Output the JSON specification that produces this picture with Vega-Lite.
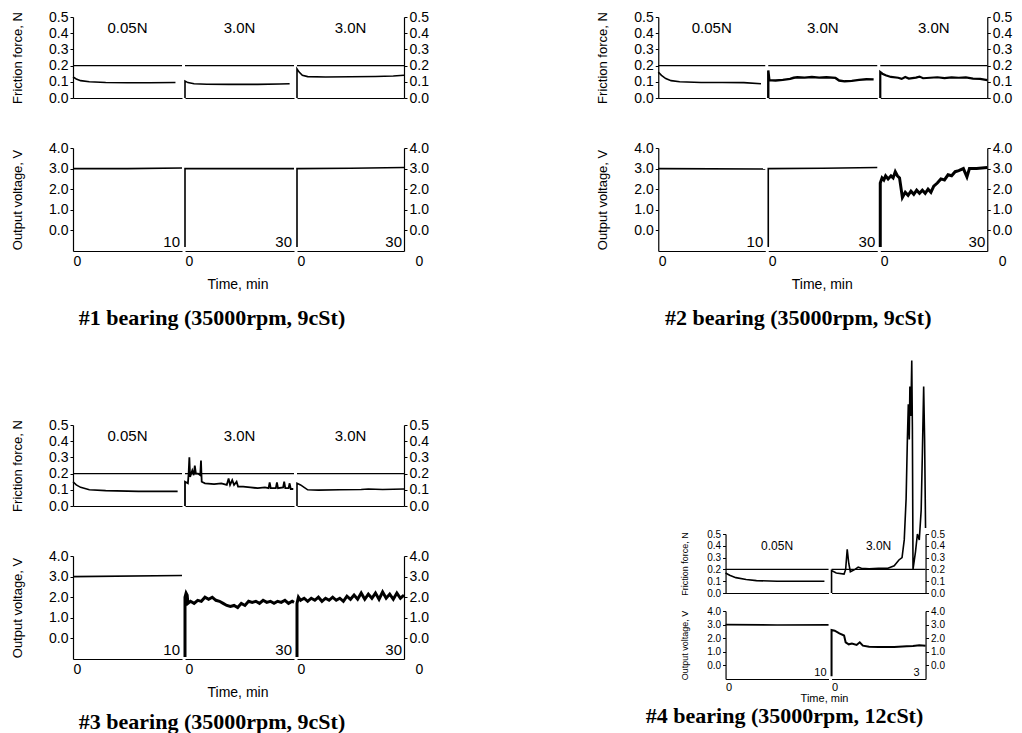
{
"$schema": "https://vega.github.io/schema/vega-lite/v6.json",
"background": "white",
"padding": {"left": 11, "top": 10, "right": 3, "bottom": 0},
"config": {
  "view": {"stroke": null},
  "axis": {"domainColor": "black", "tickColor": "black", "labelColor": "black", "titleColor": "black", "labelFont": "Liberation Sans", "titleFont": "Liberation Sans", "grid": false, "domainWidth": 1.2, "tickWidth": 1, "tickSize": 3, "labelFontSize": 14, "titleFontSize": 13, "titleFontWeight": "normal", "titlePadding": 24, "labelPadding": 2, "labelOverlap": false},
  "title": {"color": "black"}
},
"datasets": {
"d": [
{"b":1,"s":1,"k":"F","t":0,"v":0.13},{"b":1,"s":1,"k":"F","t":0.3,"v":0.117},{"b":1,"s":1,"k":"F","t":0.7,"v":0.107},{"b":1,"s":1,"k":"F","t":1.5,"v":0.1},{"b":1,"s":1,"k":"F","t":3,"v":0.096},{"b":1,"s":1,"k":"F","t":5,"v":0.094},{"b":1,"s":1,"k":"F","t":7,"v":0.094},{"b":1,"s":1,"k":"F","t":9.4,"v":0.096},
{"b":1,"s":2,"k":"F","t":0,"v":0},{"b":1,"s":2,"k":"F","t":0,"v":0.105},{"b":1,"s":2,"k":"F","t":0.8,"v":0.095},{"b":1,"s":2,"k":"F","t":2.5,"v":0.088},{"b":1,"s":2,"k":"F","t":6,"v":0.085},{"b":1,"s":2,"k":"F","t":12,"v":0.084},{"b":1,"s":2,"k":"F","t":20,"v":0.084},{"b":1,"s":2,"k":"F","t":26,"v":0.086},{"b":1,"s":2,"k":"F","t":28.8,"v":0.088},
{"b":1,"s":3,"k":"F","t":0,"v":0},{"b":1,"s":3,"k":"F","t":0,"v":0.18},{"b":1,"s":3,"k":"F","t":0.6,"v":0.16},{"b":1,"s":3,"k":"F","t":1.5,"v":0.14},{"b":1,"s":3,"k":"F","t":3,"v":0.132},{"b":1,"s":3,"k":"F","t":8,"v":0.13},{"b":1,"s":3,"k":"F","t":15,"v":0.131},{"b":1,"s":3,"k":"F","t":22,"v":0.133},{"b":1,"s":3,"k":"F","t":27,"v":0.136},{"b":1,"s":3,"k":"F","t":30,"v":0.14},
{"b":1,"s":1,"k":"V","t":0,"v":3.0},{"b":1,"s":1,"k":"V","t":5,"v":3.0},{"b":1,"s":1,"k":"V","t":10,"v":3.03},
{"b":1,"s":2,"k":"V","t":0,"v":-0.8},{"b":1,"s":2,"k":"V","t":0,"v":3.0},{"b":1,"s":2,"k":"V","t":15,"v":3.0},{"b":1,"s":2,"k":"V","t":30,"v":3.0},
{"b":1,"s":3,"k":"V","t":0,"v":-0.8},{"b":1,"s":3,"k":"V","t":0,"v":3.0},{"b":1,"s":3,"k":"V","t":15,"v":3.02},{"b":1,"s":3,"k":"V","t":30,"v":3.05},

{"b":2,"s":1,"k":"F","t":0,"v":0.16},{"b":2,"s":1,"k":"F","t":0.3,"v":0.14},{"b":2,"s":1,"k":"F","t":0.7,"v":0.12},{"b":2,"s":1,"k":"F","t":1.2,"v":0.107},{"b":2,"s":1,"k":"F","t":2,"v":0.1},{"b":2,"s":1,"k":"F","t":4,"v":0.096},{"b":2,"s":1,"k":"F","t":6,"v":0.096},{"b":2,"s":1,"k":"F","t":8,"v":0.095},{"b":2,"s":1,"k":"F","t":9.6,"v":0.088},
{"b":2,"s":2,"k":"F","t":0,"v":0},{"b":2,"s":2,"k":"F","t":0,"v":0.17},{"b":2,"s":2,"k":"F","t":0.3,"v":0.11},{"b":2,"s":2,"k":"F","t":2,"v":0.108},{"b":2,"s":2,"k":"F","t":4,"v":0.112},{"b":2,"s":2,"k":"F","t":6,"v":0.118},{"b":2,"s":2,"k":"F","t":7,"v":0.125},{"b":2,"s":2,"k":"F","t":8,"v":0.128},{"b":2,"s":2,"k":"F","t":10,"v":0.126},{"b":2,"s":2,"k":"F","t":12,"v":0.13},{"b":2,"s":2,"k":"F","t":14,"v":0.126},{"b":2,"s":2,"k":"F","t":16,"v":0.128},{"b":2,"s":2,"k":"F","t":18.5,"v":0.124},{"b":2,"s":2,"k":"F","t":19.5,"v":0.108},{"b":2,"s":2,"k":"F","t":21,"v":0.103},{"b":2,"s":2,"k":"F","t":23,"v":0.106},{"b":2,"s":2,"k":"F","t":25,"v":0.112},{"b":2,"s":2,"k":"F","t":27,"v":0.116},{"b":2,"s":2,"k":"F","t":29,"v":0.115},
{"b":2,"s":3,"k":"F","t":0,"v":0},{"b":2,"s":3,"k":"F","t":0,"v":0.16},{"b":2,"s":3,"k":"F","t":0.6,"v":0.15},{"b":2,"s":3,"k":"F","t":1.5,"v":0.14},{"b":2,"s":3,"k":"F","t":3,"v":0.13},{"b":2,"s":3,"k":"F","t":5,"v":0.125},{"b":2,"s":3,"k":"F","t":6,"v":0.118},{"b":2,"s":3,"k":"F","t":7,"v":0.13},{"b":2,"s":3,"k":"F","t":8,"v":0.12},{"b":2,"s":3,"k":"F","t":10,"v":0.126},{"b":2,"s":3,"k":"F","t":11,"v":0.132},{"b":2,"s":3,"k":"F","t":12,"v":0.122},{"b":2,"s":3,"k":"F","t":14,"v":0.125},{"b":2,"s":3,"k":"F","t":16,"v":0.128},{"b":2,"s":3,"k":"F","t":18,"v":0.123},{"b":2,"s":3,"k":"F","t":20,"v":0.127},{"b":2,"s":3,"k":"F","t":22,"v":0.125},{"b":2,"s":3,"k":"F","t":24,"v":0.127},{"b":2,"s":3,"k":"F","t":26,"v":0.12},{"b":2,"s":3,"k":"F","t":28,"v":0.118},{"b":2,"s":3,"k":"F","t":30,"v":0.11},
{"b":2,"s":1,"k":"V","t":0,"v":3.0},{"b":2,"s":1,"k":"V","t":10,"v":2.98},
{"b":2,"s":2,"k":"V","t":0,"v":-0.8},{"b":2,"s":2,"k":"V","t":0,"v":3.0},{"b":2,"s":2,"k":"V","t":15,"v":3.02},{"b":2,"s":2,"k":"V","t":30,"v":3.05},
{"b":2,"s":3,"k":"V","t":0,"v":-0.8},{"b":2,"s":3,"k":"V","t":0,"v":2.3},{"b":2,"s":3,"k":"V","t":0.5,"v":2.55},{"b":2,"s":3,"k":"V","t":1,"v":2.45},{"b":2,"s":3,"k":"V","t":1.5,"v":2.65},{"b":2,"s":3,"k":"V","t":2.2,"v":2.5},{"b":2,"s":3,"k":"V","t":3,"v":2.65},{"b":2,"s":3,"k":"V","t":3.6,"v":2.55},{"b":2,"s":3,"k":"V","t":4.2,"v":2.85},{"b":2,"s":3,"k":"V","t":4.8,"v":2.65},{"b":2,"s":3,"k":"V","t":5.4,"v":2.55},{"b":2,"s":3,"k":"V","t":6.2,"v":1.6},{"b":2,"s":3,"k":"V","t":7,"v":1.85},{"b":2,"s":3,"k":"V","t":7.8,"v":1.7},{"b":2,"s":3,"k":"V","t":8.6,"v":1.9},{"b":2,"s":3,"k":"V","t":9.4,"v":1.75},{"b":2,"s":3,"k":"V","t":10.2,"v":1.95},{"b":2,"s":3,"k":"V","t":11,"v":1.8},{"b":2,"s":3,"k":"V","t":11.8,"v":1.95},{"b":2,"s":3,"k":"V","t":12.6,"v":1.8},{"b":2,"s":3,"k":"V","t":13.4,"v":2.0},{"b":2,"s":3,"k":"V","t":14.2,"v":1.85},{"b":2,"s":3,"k":"V","t":15,"v":2.15},{"b":2,"s":3,"k":"V","t":16,"v":2.3},{"b":2,"s":3,"k":"V","t":17,"v":2.5},{"b":2,"s":3,"k":"V","t":18,"v":2.45},{"b":2,"s":3,"k":"V","t":19,"v":2.7},{"b":2,"s":3,"k":"V","t":20,"v":2.65},{"b":2,"s":3,"k":"V","t":21,"v":2.85},{"b":2,"s":3,"k":"V","t":22,"v":2.9},{"b":2,"s":3,"k":"V","t":23.3,"v":3.0},{"b":2,"s":3,"k":"V","t":24.3,"v":2.6},{"b":2,"s":3,"k":"V","t":25,"v":3.0},{"b":2,"s":3,"k":"V","t":27,"v":3.0},{"b":2,"s":3,"k":"V","t":30,"v":3.05},

{"b":3,"s":1,"k":"F","t":0,"v":0.15},{"b":3,"s":1,"k":"F","t":0.3,"v":0.13},{"b":3,"s":1,"k":"F","t":0.7,"v":0.115},{"b":3,"s":1,"k":"F","t":1.5,"v":0.1},{"b":3,"s":1,"k":"F","t":3,"v":0.095},{"b":3,"s":1,"k":"F","t":6,"v":0.09},{"b":3,"s":1,"k":"F","t":9.6,"v":0.09},
{"b":3,"s":2,"k":"F","t":0,"v":0},{"b":3,"s":2,"k":"F","t":0,"v":0.15},{"b":3,"s":2,"k":"F","t":0.8,"v":0.14},{"b":3,"s":2,"k":"F","t":1.0,"v":0.2},{"b":3,"s":2,"k":"F","t":1.2,"v":0.3},{"b":3,"s":2,"k":"F","t":1.4,"v":0.18},{"b":3,"s":2,"k":"F","t":2.0,"v":0.22},{"b":3,"s":2,"k":"F","t":2.4,"v":0.19},{"b":3,"s":2,"k":"F","t":2.7,"v":0.25},{"b":3,"s":2,"k":"F","t":3.0,"v":0.2},{"b":3,"s":2,"k":"F","t":3.6,"v":0.2},{"b":3,"s":2,"k":"F","t":4.2,"v":0.19},{"b":3,"s":2,"k":"F","t":4.4,"v":0.28},{"b":3,"s":2,"k":"F","t":4.6,"v":0.15},{"b":3,"s":2,"k":"F","t":5.5,"v":0.14},{"b":3,"s":2,"k":"F","t":8,"v":0.135},{"b":3,"s":2,"k":"F","t":10,"v":0.14},{"b":3,"s":2,"k":"F","t":11.5,"v":0.13},{"b":3,"s":2,"k":"F","t":12,"v":0.17},{"b":3,"s":2,"k":"F","t":12.4,"v":0.13},{"b":3,"s":2,"k":"F","t":13,"v":0.16},{"b":3,"s":2,"k":"F","t":13.5,"v":0.13},{"b":3,"s":2,"k":"F","t":14.2,"v":0.15},{"b":3,"s":2,"k":"F","t":14.6,"v":0.12},{"b":3,"s":2,"k":"F","t":16,"v":0.12},{"b":3,"s":2,"k":"F","t":18,"v":0.115},{"b":3,"s":2,"k":"F","t":20,"v":0.11},{"b":3,"s":2,"k":"F","t":22,"v":0.115},{"b":3,"s":2,"k":"F","t":23,"v":0.11},{"b":3,"s":2,"k":"F","t":23.3,"v":0.145},{"b":3,"s":2,"k":"F","t":23.6,"v":0.11},{"b":3,"s":2,"k":"F","t":25,"v":0.11},{"b":3,"s":2,"k":"F","t":25.3,"v":0.145},{"b":3,"s":2,"k":"F","t":25.6,"v":0.11},{"b":3,"s":2,"k":"F","t":27,"v":0.115},{"b":3,"s":2,"k":"F","t":27.3,"v":0.15},{"b":3,"s":2,"k":"F","t":27.6,"v":0.11},{"b":3,"s":2,"k":"F","t":28.5,"v":0.11},{"b":3,"s":2,"k":"F","t":28.8,"v":0.14},{"b":3,"s":2,"k":"F","t":29.1,"v":0.105},{"b":3,"s":2,"k":"F","t":29.8,"v":0.105},
{"b":3,"s":3,"k":"F","t":0,"v":0},{"b":3,"s":3,"k":"F","t":0,"v":0.14},{"b":3,"s":3,"k":"F","t":1,"v":0.13},{"b":3,"s":3,"k":"F","t":2,"v":0.115},{"b":3,"s":3,"k":"F","t":3,"v":0.1},{"b":3,"s":3,"k":"F","t":6,"v":0.098},{"b":3,"s":3,"k":"F","t":12,"v":0.1},{"b":3,"s":3,"k":"F","t":18,"v":0.102},{"b":3,"s":3,"k":"F","t":20,"v":0.105},{"b":3,"s":3,"k":"F","t":24,"v":0.102},{"b":3,"s":3,"k":"F","t":30,"v":0.105},
{"b":3,"s":1,"k":"V","t":0,"v":3.0},{"b":3,"s":1,"k":"V","t":10,"v":3.05},
{"b":3,"s":2,"k":"V","t":0,"v":-0.9},{"b":3,"s":2,"k":"V","t":0,"v":2.0},{"b":3,"s":2,"k":"V","t":0.3,"v":2.2},{"b":3,"s":2,"k":"V","t":0.6,"v":2.1},{"b":3,"s":2,"k":"V","t":0.8,"v":1.7},{"b":3,"s":2,"k":"V","t":1.5,"v":1.8},{"b":3,"s":2,"k":"V","t":2.5,"v":1.7},{"b":3,"s":2,"k":"V","t":3.5,"v":1.85},{"b":3,"s":2,"k":"V","t":4.5,"v":1.8},{"b":3,"s":2,"k":"V","t":5.5,"v":2.0},{"b":3,"s":2,"k":"V","t":6.5,"v":1.9},{"b":3,"s":2,"k":"V","t":7.5,"v":2.0},{"b":3,"s":2,"k":"V","t":8.5,"v":1.85},{"b":3,"s":2,"k":"V","t":9.5,"v":1.8},{"b":3,"s":2,"k":"V","t":10.5,"v":1.7},{"b":3,"s":2,"k":"V","t":11.5,"v":1.6},{"b":3,"s":2,"k":"V","t":12.5,"v":1.55},{"b":3,"s":2,"k":"V","t":13.5,"v":1.6},{"b":3,"s":2,"k":"V","t":14.5,"v":1.5},{"b":3,"s":2,"k":"V","t":15.5,"v":1.7},{"b":3,"s":2,"k":"V","t":16.5,"v":1.6},{"b":3,"s":2,"k":"V","t":17.5,"v":1.8},{"b":3,"s":2,"k":"V","t":18.5,"v":1.75},{"b":3,"s":2,"k":"V","t":19.5,"v":1.8},{"b":3,"s":2,"k":"V","t":20.5,"v":1.7},{"b":3,"s":2,"k":"V","t":21.5,"v":1.85},{"b":3,"s":2,"k":"V","t":22.5,"v":1.75},{"b":3,"s":2,"k":"V","t":23.5,"v":1.8},{"b":3,"s":2,"k":"V","t":24.5,"v":1.7},{"b":3,"s":2,"k":"V","t":25.5,"v":1.8},{"b":3,"s":2,"k":"V","t":26.5,"v":1.75},{"b":3,"s":2,"k":"V","t":27.5,"v":1.85},{"b":3,"s":2,"k":"V","t":28.5,"v":1.7},{"b":3,"s":2,"k":"V","t":29.5,"v":1.8},{"b":3,"s":2,"k":"V","t":30,"v":1.75},
{"b":3,"s":3,"k":"V","t":0,"v":-0.9},{"b":3,"s":3,"k":"V","t":0,"v":1.7},{"b":3,"s":3,"k":"V","t":0.4,"v":2.0},{"b":3,"s":3,"k":"V","t":1,"v":1.85},{"b":3,"s":3,"k":"V","t":2,"v":1.95},{"b":3,"s":3,"k":"V","t":3,"v":1.8},{"b":3,"s":3,"k":"V","t":4,"v":1.95},{"b":3,"s":3,"k":"V","t":5,"v":1.85},{"b":3,"s":3,"k":"V","t":6,"v":2.0},{"b":3,"s":3,"k":"V","t":7,"v":1.8},{"b":3,"s":3,"k":"V","t":8,"v":1.95},{"b":3,"s":3,"k":"V","t":9,"v":1.85},{"b":3,"s":3,"k":"V","t":10,"v":2.0},{"b":3,"s":3,"k":"V","t":11,"v":1.85},{"b":3,"s":3,"k":"V","t":12,"v":1.95},{"b":3,"s":3,"k":"V","t":13,"v":1.8},{"b":3,"s":3,"k":"V","t":14,"v":2.05},{"b":3,"s":3,"k":"V","t":15,"v":1.9},{"b":3,"s":3,"k":"V","t":16,"v":2.1},{"b":3,"s":3,"k":"V","t":17,"v":1.9},{"b":3,"s":3,"k":"V","t":18,"v":2.2},{"b":3,"s":3,"k":"V","t":19,"v":1.9},{"b":3,"s":3,"k":"V","t":20,"v":2.15},{"b":3,"s":3,"k":"V","t":21,"v":1.95},{"b":3,"s":3,"k":"V","t":22,"v":2.2},{"b":3,"s":3,"k":"V","t":23,"v":1.9},{"b":3,"s":3,"k":"V","t":24,"v":2.25},{"b":3,"s":3,"k":"V","t":25,"v":1.95},{"b":3,"s":3,"k":"V","t":26,"v":2.15},{"b":3,"s":3,"k":"V","t":27,"v":1.9},{"b":3,"s":3,"k":"V","t":28,"v":2.2},{"b":3,"s":3,"k":"V","t":29,"v":1.95},{"b":3,"s":3,"k":"V","t":30,"v":2.1},

{"b":4,"s":1,"k":"F","t":0,"v":0.17},{"b":4,"s":1,"k":"F","t":0.4,"v":0.15},{"b":4,"s":1,"k":"F","t":1,"v":0.13},{"b":4,"s":1,"k":"F","t":2,"v":0.115},{"b":4,"s":1,"k":"F","t":3,"v":0.105},{"b":4,"s":1,"k":"F","t":5,"v":0.1},{"b":4,"s":1,"k":"F","t":7,"v":0.1},{"b":4,"s":1,"k":"F","t":9.6,"v":0.1},
{"b":4,"s":2,"k":"F","t":0,"v":0},{"b":4,"s":2,"k":"F","t":0,"v":0.19},{"b":4,"s":2,"k":"F","t":0.15,"v":0.17},{"b":4,"s":2,"k":"F","t":0.4,"v":0.16},{"b":4,"s":2,"k":"F","t":0.45,"v":0.2},{"b":4,"s":2,"k":"F","t":0.5,"v":0.37},{"b":4,"s":2,"k":"F","t":0.55,"v":0.25},{"b":4,"s":2,"k":"F","t":0.6,"v":0.18},{"b":4,"s":2,"k":"F","t":0.75,"v":0.2},{"b":4,"s":2,"k":"F","t":0.85,"v":0.22},{"b":4,"s":2,"k":"F","t":0.95,"v":0.21},{"b":4,"s":2,"k":"F","t":1.2,"v":0.205},{"b":4,"s":2,"k":"F","t":1.5,"v":0.21},{"b":4,"s":2,"k":"F","t":1.8,"v":0.21},{"b":4,"s":2,"k":"F","t":2.0,"v":0.23},{"b":4,"s":2,"k":"F","t":2.15,"v":0.28},{"b":4,"s":2,"k":"F","t":2.25,"v":0.3},{"b":4,"s":2,"k":"F","t":2.32,"v":0.45},{"b":4,"s":2,"k":"F","t":2.38,"v":0.8},{"b":4,"s":2,"k":"F","t":2.42,"v":1.3},{"b":4,"s":2,"k":"F","t":2.45,"v":1.6},{"b":4,"s":2,"k":"F","t":2.48,"v":1.3},{"b":4,"s":2,"k":"F","t":2.5,"v":1.75},{"b":4,"s":2,"k":"F","t":2.53,"v":1.5},{"b":4,"s":2,"k":"F","t":2.56,"v":1.97},{"b":4,"s":2,"k":"F","t":2.58,"v":1.4},{"b":4,"s":2,"k":"F","t":2.6,"v":0.2},{"b":4,"s":2,"k":"F","t":2.68,"v":0.35},{"b":4,"s":2,"k":"F","t":2.74,"v":0.5},{"b":4,"s":2,"k":"F","t":2.8,"v":0.45},{"b":4,"s":2,"k":"F","t":2.86,"v":0.7},{"b":4,"s":2,"k":"F","t":2.9,"v":1.2},{"b":4,"s":2,"k":"F","t":2.94,"v":1.75},{"b":4,"s":2,"k":"F","t":2.97,"v":1.3},{"b":4,"s":2,"k":"F","t":3.0,"v":0.55},
{"b":4,"s":1,"k":"V","t":0,"v":3.0},{"b":4,"s":1,"k":"V","t":5,"v":2.97},{"b":4,"s":1,"k":"V","t":10,"v":2.98},
{"b":4,"s":2,"k":"V","t":0,"v":-0.8},{"b":4,"s":2,"k":"V","t":0,"v":2.6},{"b":4,"s":2,"k":"V","t":0.1,"v":2.55},{"b":4,"s":2,"k":"V","t":0.25,"v":2.35},{"b":4,"s":2,"k":"V","t":0.4,"v":2.2},{"b":4,"s":2,"k":"V","t":0.45,"v":1.7},{"b":4,"s":2,"k":"V","t":0.55,"v":1.55},{"b":4,"s":2,"k":"V","t":0.65,"v":1.6},{"b":4,"s":2,"k":"V","t":0.8,"v":1.5},{"b":4,"s":2,"k":"V","t":0.9,"v":1.7},{"b":4,"s":2,"k":"V","t":1.0,"v":1.45},{"b":4,"s":2,"k":"V","t":1.2,"v":1.38},{"b":4,"s":2,"k":"V","t":1.5,"v":1.35},{"b":4,"s":2,"k":"V","t":2.0,"v":1.35},{"b":4,"s":2,"k":"V","t":2.4,"v":1.4},{"b":4,"s":2,"k":"V","t":2.6,"v":1.42},{"b":4,"s":2,"k":"V","t":2.8,"v":1.48},{"b":4,"s":2,"k":"V","t":3.0,"v":1.45}
],
"ann": [
{"b":1,"s":1,"k":"F","t":5,"v":0.43,"label":"0.05N"},{"b":1,"s":2,"k":"F","t":15,"v":0.43,"label":"3.0N"},{"b":1,"s":3,"k":"F","t":15,"v":0.43,"label":"3.0N"},
{"b":2,"s":1,"k":"F","t":5,"v":0.43,"label":"0.05N"},{"b":2,"s":2,"k":"F","t":15,"v":0.43,"label":"3.0N"},{"b":2,"s":3,"k":"F","t":15,"v":0.43,"label":"3.0N"},
{"b":3,"s":1,"k":"F","t":5,"v":0.43,"label":"0.05N"},{"b":3,"s":2,"k":"F","t":15,"v":0.43,"label":"3.0N"},{"b":3,"s":3,"k":"F","t":15,"v":0.43,"label":"3.0N"},
{"b":4,"s":1,"k":"F","t":5,"v":0.4,"label":"0.05N"},{"b":4,"s":2,"k":"F","t":1.5,"v":0.4,"label":"3.0N"},
{"b":1,"s":1,"k":"V","t":10,"v":-1,"label":"10"},{"b":1,"s":2,"k":"V","t":30,"v":-1,"label":"30"},{"b":1,"s":3,"k":"V","t":30,"v":-1,"label":"30"},
{"b":2,"s":1,"k":"V","t":10,"v":-1,"label":"10"},{"b":2,"s":2,"k":"V","t":30,"v":-1,"label":"30"},{"b":2,"s":3,"k":"V","t":30,"v":-1,"label":"30"},
{"b":3,"s":1,"k":"V","t":10,"v":-1,"label":"10"},{"b":3,"s":2,"k":"V","t":30,"v":-1,"label":"30"},{"b":3,"s":3,"k":"V","t":30,"v":-1,"label":"30"},
{"b":4,"s":1,"k":"V","t":10,"v":-1,"label":"10"},{"b":4,"s":2,"k":"V","t":3,"v":-1,"label":"3"}
]
},
"spacing": 167,
"hconcat": [
{"spacing": 89, "vconcat": [

{"title": {"text": "#1 bearing (35000rpm, 9cSt)", "orient": "bottom", "anchor": "middle", "offset": 16, "dx": -8, "font": "Liberation Serif", "fontSize": 22, "fontWeight": "bold", "color": "black"},
 "spacing": 36,
 "vconcat": [
 {"spacing": 3, "bounds": "flush", "hconcat": [
  {"width": 109, "height": 81,
   "encoding": {"y": {"field": "v", "type": "quantitative", "scale": {"domain": [0, 0.5], "nice": false}, "axis": {"values": [0, 0.1, 0.2, 0.3, 0.4, 0.5], "format": ".1f", "labelOverlap": false, "title": "Friction force, N"}}},
   "layer": [
   {"data": {"name": "d"}, "transform": [{"filter": "datum.b==1&&datum.s==1&&datum.k=='F'"}], "mark": {"type": "line", "color": "black", "strokeWidth": 1.6}, "encoding": {"x": {"field": "t", "type": "quantitative", "scale": {"domain": [0, 10], "nice": false}, "axis": {"labels": false, "ticks": false, "title": null}}}},
   {"data": {"values": [{"v": 0.2}]}, "mark": {"type": "rule", "color": "black", "strokeWidth": 1.2}, "encoding": {}},
   {"data": {"name": "ann"}, "transform": [{"filter": "datum.b==1&&datum.s==1&&datum.k=='F'"}], "mark": {"type": "text", "font": "Liberation Sans", "fontSize": 15, "color": "black"}, "encoding": {"x": {"field": "t", "type": "quantitative", "scale": {"domain": [0, 10], "nice": false}}, "text": {"field": "label"}}}
  ]},
  {"width": 109, "height": 81,
   "encoding": {"y": {"field": "v", "type": "quantitative", "scale": {"domain": [0, 0.5], "nice": false}, "axis": null}},
   "layer": [
   {"data": {"name": "d"}, "transform": [{"filter": "datum.b==1&&datum.s==2&&datum.k=='F'"}], "mark": {"type": "line", "color": "black", "strokeWidth": 1.6}, "encoding": {"x": {"field": "t", "type": "quantitative", "scale": {"domain": [0, 30], "nice": false}, "axis": {"labels": false, "ticks": false, "title": null}}}},
   {"data": {"values": [{"v": 0.2}]}, "mark": {"type": "rule", "color": "black", "strokeWidth": 1.2}, "encoding": {}},
   {"data": {"name": "ann"}, "transform": [{"filter": "datum.b==1&&datum.s==2&&datum.k=='F'"}], "mark": {"type": "text", "font": "Liberation Sans", "fontSize": 15, "color": "black"}, "encoding": {"x": {"field": "t", "type": "quantitative", "scale": {"domain": [0, 30], "nice": false}}, "text": {"field": "label"}}}
  ]},
  {"width": 107, "height": 81,
   "encoding": {"y": {"field": "v", "type": "quantitative", "scale": {"domain": [0, 0.5], "nice": false}, "axis": {"orient": "right", "values": [0, 0.1, 0.2, 0.3, 0.4, 0.5], "format": ".1f", "labelOverlap": false, "title": null}}},
   "layer": [
   {"data": {"name": "d"}, "transform": [{"filter": "datum.b==1&&datum.s==3&&datum.k=='F'"}], "mark": {"type": "line", "color": "black", "strokeWidth": 1.6}, "encoding": {"x": {"field": "t", "type": "quantitative", "scale": {"domain": [0, 30], "nice": false}, "axis": {"labels": false, "ticks": false, "title": null}}}},
   {"data": {"values": [{"v": 0.2}]}, "mark": {"type": "rule", "color": "black", "strokeWidth": 1.2}, "encoding": {}},
   {"data": {"name": "ann"}, "transform": [{"filter": "datum.b==1&&datum.s==3&&datum.k=='F'"}], "mark": {"type": "text", "font": "Liberation Sans", "fontSize": 15, "color": "black"}, "encoding": {"x": {"field": "t", "type": "quantitative", "scale": {"domain": [0, 30], "nice": false}}, "text": {"field": "label"}}}
  ]}
 ]},
 {"spacing": 3, "bounds": "flush", "title": {"text": "Time, min", "orient": "bottom", "anchor": "middle", "offset": 10, "dx": 18, "font": "Liberation Sans", "fontSize": 14, "fontWeight": "normal", "color": "black"}, "hconcat": [
  {"width": 109, "height": 103,
   "encoding": {"y": {"field": "v", "type": "quantitative", "scale": {"domain": [-1, 4], "nice": false}, "axis": {"values": [0, 1, 2, 3, 4], "format": ".1f", "labelOverlap": false, "title": "Output voltage, V"}}},
   "layer": [
   {"data": {"name": "d"}, "transform": [{"filter": "datum.b==1&&datum.s==1&&datum.k=='V'"}], "mark": {"type": "line", "color": "black", "strokeWidth": 1.6}, "encoding": {"x": {"field": "t", "type": "quantitative", "scale": {"domain": [0, 10], "nice": false}, "axis": {"values": [0], "labelAlign": "left", "labelFlush": false, "ticks": false, "labelPadding": 3, "title": null}}}},
   {"data": {"name": "ann"}, "transform": [{"filter": "datum.b==1&&datum.s==1&&datum.k=='V'"}], "mark": {"type": "text", "font": "Liberation Sans", "fontSize": 15, "color": "black", "align": "right", "baseline": "bottom", "dx": -2, "dy": -1}, "encoding": {"x": {"field": "t", "type": "quantitative", "scale": {"domain": [0, 10], "nice": false}}, "text": {"field": "label"}}}
  ]},
  {"width": 109, "height": 103,
   "encoding": {"y": {"field": "v", "type": "quantitative", "scale": {"domain": [-1, 4], "nice": false}, "axis": null}},
   "layer": [
   {"data": {"name": "d"}, "transform": [{"filter": "datum.b==1&&datum.s==2&&datum.k=='V'"}], "mark": {"type": "line", "color": "black", "strokeWidth": 1.6}, "encoding": {"x": {"field": "t", "type": "quantitative", "scale": {"domain": [0, 30], "nice": false}, "axis": {"values": [0], "labelAlign": "left", "labelFlush": false, "ticks": false, "labelPadding": 3, "title": null}}}},
   {"data": {"name": "ann"}, "transform": [{"filter": "datum.b==1&&datum.s==2&&datum.k=='V'"}], "mark": {"type": "text", "font": "Liberation Sans", "fontSize": 15, "color": "black", "align": "right", "baseline": "bottom", "dx": -2, "dy": -1}, "encoding": {"x": {"field": "t", "type": "quantitative", "scale": {"domain": [0, 30], "nice": false}}, "text": {"field": "label"}}}
  ]},
  {"width": 107, "height": 103,
   "encoding": {"y": {"field": "v", "type": "quantitative", "scale": {"domain": [-1, 4], "nice": false}, "axis": {"orient": "right", "values": [0, 1, 2, 3, 4], "format": ".1f", "labelOverlap": false, "title": null}}},
   "layer": [
   {"data": {"name": "d"}, "transform": [{"filter": "datum.b==1&&datum.s==3&&datum.k=='V'"}], "mark": {"type": "line", "color": "black", "strokeWidth": 1.6}, "encoding": {"x": {"field": "t", "type": "quantitative", "scale": {"domain": [0, 30], "nice": false}, "axis": {"values": [0, 30], "labelExpr": "'0'", "labelAlign": "left", "labelFlush": false, "labelOffset": {"condition": {"test": "datum.value > 0", "value": 11}, "value": 0}, "ticks": false, "labelPadding": 3, "title": null}}}},
   {"data": {"name": "ann"}, "transform": [{"filter": "datum.b==1&&datum.s==3&&datum.k=='V'"}], "mark": {"type": "text", "font": "Liberation Sans", "fontSize": 15, "color": "black", "align": "right", "baseline": "bottom", "dx": -2, "dy": -1}, "encoding": {"x": {"field": "t", "type": "quantitative", "scale": {"domain": [0, 30], "nice": false}}, "text": {"field": "label"}}}
  ]}
 ]}
 ]},

{"title": {"text": "#3 bearing (35000rpm, 9cSt)", "orient": "bottom", "anchor": "middle", "offset": 12, "dx": -8, "font": "Liberation Serif", "fontSize": 22, "fontWeight": "bold", "color": "black"},
 "spacing": 36,
 "vconcat": [
 {"spacing": 3, "bounds": "flush", "hconcat": [
  {"width": 109, "height": 81,
   "encoding": {"y": {"field": "v", "type": "quantitative", "scale": {"domain": [0, 0.5], "nice": false}, "axis": {"values": [0, 0.1, 0.2, 0.3, 0.4, 0.5], "format": ".1f", "labelOverlap": false, "title": "Friction force, N"}}},
   "layer": [
   {"data": {"name": "d"}, "transform": [{"filter": "datum.b==3&&datum.s==1&&datum.k=='F'"}], "mark": {"type": "line", "color": "black", "strokeWidth": 1.6}, "encoding": {"x": {"field": "t", "type": "quantitative", "scale": {"domain": [0, 10], "nice": false}, "axis": {"labels": false, "ticks": false, "title": null}}}},
   {"data": {"values": [{"v": 0.2}]}, "mark": {"type": "rule", "color": "black", "strokeWidth": 1.2}, "encoding": {}},
   {"data": {"name": "ann"}, "transform": [{"filter": "datum.b==3&&datum.s==1&&datum.k=='F'"}], "mark": {"type": "text", "font": "Liberation Sans", "fontSize": 15, "color": "black"}, "encoding": {"x": {"field": "t", "type": "quantitative", "scale": {"domain": [0, 10], "nice": false}}, "text": {"field": "label"}}}
  ]},
  {"width": 109, "height": 81,
   "encoding": {"y": {"field": "v", "type": "quantitative", "scale": {"domain": [0, 0.5], "nice": false}, "axis": null}},
   "layer": [
   {"data": {"name": "d"}, "transform": [{"filter": "datum.b==3&&datum.s==2&&datum.k=='F'"}], "mark": {"type": "line", "color": "black", "strokeWidth": 1.8}, "encoding": {"x": {"field": "t", "type": "quantitative", "scale": {"domain": [0, 30], "nice": false}, "axis": {"labels": false, "ticks": false, "title": null}}}},
   {"data": {"values": [{"v": 0.2}]}, "mark": {"type": "rule", "color": "black", "strokeWidth": 1.2}, "encoding": {}},
   {"data": {"name": "ann"}, "transform": [{"filter": "datum.b==3&&datum.s==2&&datum.k=='F'"}], "mark": {"type": "text", "font": "Liberation Sans", "fontSize": 15, "color": "black"}, "encoding": {"x": {"field": "t", "type": "quantitative", "scale": {"domain": [0, 30], "nice": false}}, "text": {"field": "label"}}}
  ]},
  {"width": 107, "height": 81,
   "encoding": {"y": {"field": "v", "type": "quantitative", "scale": {"domain": [0, 0.5], "nice": false}, "axis": {"orient": "right", "values": [0, 0.1, 0.2, 0.3, 0.4, 0.5], "format": ".1f", "labelOverlap": false, "title": null}}},
   "layer": [
   {"data": {"name": "d"}, "transform": [{"filter": "datum.b==3&&datum.s==3&&datum.k=='F'"}], "mark": {"type": "line", "color": "black", "strokeWidth": 1.6}, "encoding": {"x": {"field": "t", "type": "quantitative", "scale": {"domain": [0, 30], "nice": false}, "axis": {"labels": false, "ticks": false, "title": null}}}},
   {"data": {"values": [{"v": 0.2}]}, "mark": {"type": "rule", "color": "black", "strokeWidth": 1.2}, "encoding": {}},
   {"data": {"name": "ann"}, "transform": [{"filter": "datum.b==3&&datum.s==3&&datum.k=='F'"}], "mark": {"type": "text", "font": "Liberation Sans", "fontSize": 15, "color": "black"}, "encoding": {"x": {"field": "t", "type": "quantitative", "scale": {"domain": [0, 30], "nice": false}}, "text": {"field": "label"}}}
  ]}
 ]},
 {"spacing": 3, "bounds": "flush", "title": {"text": "Time, min", "orient": "bottom", "anchor": "middle", "offset": 10, "dx": 18, "font": "Liberation Sans", "fontSize": 14, "fontWeight": "normal", "color": "black"}, "hconcat": [
  {"width": 109, "height": 103,
   "encoding": {"y": {"field": "v", "type": "quantitative", "scale": {"domain": [-1, 4], "nice": false}, "axis": {"values": [0, 1, 2, 3, 4], "format": ".1f", "labelOverlap": false, "title": "Output voltage, V"}}},
   "layer": [
   {"data": {"name": "d"}, "transform": [{"filter": "datum.b==3&&datum.s==1&&datum.k=='V'"}], "mark": {"type": "line", "color": "black", "strokeWidth": 1.6}, "encoding": {"x": {"field": "t", "type": "quantitative", "scale": {"domain": [0, 10], "nice": false}, "axis": {"values": [0], "labelAlign": "left", "labelFlush": false, "ticks": false, "labelPadding": 3, "title": null}}}},
   {"data": {"name": "ann"}, "transform": [{"filter": "datum.b==3&&datum.s==1&&datum.k=='V'"}], "mark": {"type": "text", "font": "Liberation Sans", "fontSize": 15, "color": "black", "align": "right", "baseline": "bottom", "dx": -2, "dy": -1}, "encoding": {"x": {"field": "t", "type": "quantitative", "scale": {"domain": [0, 10], "nice": false}}, "text": {"field": "label"}}}
  ]},
  {"width": 109, "height": 103,
   "encoding": {"y": {"field": "v", "type": "quantitative", "scale": {"domain": [-1, 4], "nice": false}, "axis": null}},
   "layer": [
   {"data": {"name": "d"}, "transform": [{"filter": "datum.b==3&&datum.s==2&&datum.k=='V'"}], "mark": {"type": "line", "color": "black", "strokeWidth": 3}, "encoding": {"x": {"field": "t", "type": "quantitative", "scale": {"domain": [0, 30], "nice": false}, "axis": {"values": [0], "labelAlign": "left", "labelFlush": false, "ticks": false, "labelPadding": 3, "title": null}}}},
   {"data": {"name": "ann"}, "transform": [{"filter": "datum.b==3&&datum.s==2&&datum.k=='V'"}], "mark": {"type": "text", "font": "Liberation Sans", "fontSize": 15, "color": "black", "align": "right", "baseline": "bottom", "dx": -2, "dy": -1}, "encoding": {"x": {"field": "t", "type": "quantitative", "scale": {"domain": [0, 30], "nice": false}}, "text": {"field": "label"}}}
  ]},
  {"width": 107, "height": 103,
   "encoding": {"y": {"field": "v", "type": "quantitative", "scale": {"domain": [-1, 4], "nice": false}, "axis": {"orient": "right", "values": [0, 1, 2, 3, 4], "format": ".1f", "labelOverlap": false, "title": null}}},
   "layer": [
   {"data": {"name": "d"}, "transform": [{"filter": "datum.b==3&&datum.s==3&&datum.k=='V'"}], "mark": {"type": "line", "color": "black", "strokeWidth": 3}, "encoding": {"x": {"field": "t", "type": "quantitative", "scale": {"domain": [0, 30], "nice": false}, "axis": {"values": [0, 30], "labelExpr": "'0'", "labelAlign": "left", "labelFlush": false, "labelOffset": {"condition": {"test": "datum.value > 0", "value": 11}, "value": 0}, "ticks": false, "labelPadding": 3, "title": null}}}},
   {"data": {"name": "ann"}, "transform": [{"filter": "datum.b==3&&datum.s==3&&datum.k=='V'"}], "mark": {"type": "text", "font": "Liberation Sans", "fontSize": 15, "color": "black", "align": "right", "baseline": "bottom", "dx": -2, "dy": -1}, "encoding": {"x": {"field": "t", "type": "quantitative", "scale": {"domain": [0, 30], "nice": false}}, "text": {"field": "label"}}}
  ]}
 ]}
 ]}
]},

{"spacing": 28, "center": true, "vconcat": [

{"title": {"text": "#2 bearing (35000rpm, 9cSt)", "orient": "bottom", "anchor": "middle", "offset": 16, "dx": -6, "font": "Liberation Serif", "fontSize": 22, "fontWeight": "bold", "color": "black"},
 "spacing": 36,
 "vconcat": [
 {"spacing": 3, "bounds": "flush", "hconcat": [
  {"width": 107, "height": 81,
   "encoding": {"y": {"field": "v", "type": "quantitative", "scale": {"domain": [0, 0.5], "nice": false}, "axis": {"values": [0, 0.1, 0.2, 0.3, 0.4, 0.5], "format": ".1f", "labelOverlap": false, "title": "Friction force, N"}}},
   "layer": [
   {"data": {"name": "d"}, "transform": [{"filter": "datum.b==2&&datum.s==1&&datum.k=='F'"}], "mark": {"type": "line", "color": "black", "strokeWidth": 1.6}, "encoding": {"x": {"field": "t", "type": "quantitative", "scale": {"domain": [0, 10], "nice": false}, "axis": {"labels": false, "ticks": false, "title": null}}}},
   {"data": {"values": [{"v": 0.2}]}, "mark": {"type": "rule", "color": "black", "strokeWidth": 1.2}, "encoding": {}},
   {"data": {"name": "ann"}, "transform": [{"filter": "datum.b==2&&datum.s==1&&datum.k=='F'"}], "mark": {"type": "text", "font": "Liberation Sans", "fontSize": 15, "color": "black"}, "encoding": {"x": {"field": "t", "type": "quantitative", "scale": {"domain": [0, 10], "nice": false}}, "text": {"field": "label"}}}
  ]},
  {"width": 109, "height": 81,
   "encoding": {"y": {"field": "v", "type": "quantitative", "scale": {"domain": [0, 0.5], "nice": false}, "axis": null}},
   "layer": [
   {"data": {"name": "d"}, "transform": [{"filter": "datum.b==2&&datum.s==2&&datum.k=='F'"}], "mark": {"type": "line", "color": "black", "strokeWidth": 2.4}, "encoding": {"x": {"field": "t", "type": "quantitative", "scale": {"domain": [0, 30], "nice": false}, "axis": {"labels": false, "ticks": false, "title": null}}}},
   {"data": {"values": [{"v": 0.2}]}, "mark": {"type": "rule", "color": "black", "strokeWidth": 1.2}, "encoding": {}},
   {"data": {"name": "ann"}, "transform": [{"filter": "datum.b==2&&datum.s==2&&datum.k=='F'"}], "mark": {"type": "text", "font": "Liberation Sans", "fontSize": 15, "color": "black"}, "encoding": {"x": {"field": "t", "type": "quantitative", "scale": {"domain": [0, 30], "nice": false}}, "text": {"field": "label"}}}
  ]},
  {"width": 107, "height": 81,
   "encoding": {"y": {"field": "v", "type": "quantitative", "scale": {"domain": [0, 0.5], "nice": false}, "axis": {"orient": "right", "values": [0, 0.1, 0.2, 0.3, 0.4, 0.5], "format": ".1f", "labelOverlap": false, "title": null}}},
   "layer": [
   {"data": {"name": "d"}, "transform": [{"filter": "datum.b==2&&datum.s==3&&datum.k=='F'"}], "mark": {"type": "line", "color": "black", "strokeWidth": 2.2}, "encoding": {"x": {"field": "t", "type": "quantitative", "scale": {"domain": [0, 30], "nice": false}, "axis": {"labels": false, "ticks": false, "title": null}}}},
   {"data": {"values": [{"v": 0.2}]}, "mark": {"type": "rule", "color": "black", "strokeWidth": 1.2}, "encoding": {}},
   {"data": {"name": "ann"}, "transform": [{"filter": "datum.b==2&&datum.s==3&&datum.k=='F'"}], "mark": {"type": "text", "font": "Liberation Sans", "fontSize": 15, "color": "black"}, "encoding": {"x": {"field": "t", "type": "quantitative", "scale": {"domain": [0, 30], "nice": false}}, "text": {"field": "label"}}}
  ]}
 ]},
 {"spacing": 3, "bounds": "flush", "title": {"text": "Time, min", "orient": "bottom", "anchor": "middle", "offset": 10, "dx": 18, "font": "Liberation Sans", "fontSize": 14, "fontWeight": "normal", "color": "black"}, "hconcat": [
  {"width": 107, "height": 103,
   "encoding": {"y": {"field": "v", "type": "quantitative", "scale": {"domain": [-1, 4], "nice": false}, "axis": {"values": [0, 1, 2, 3, 4], "format": ".1f", "labelOverlap": false, "title": "Output voltage, V"}}},
   "layer": [
   {"data": {"name": "d"}, "transform": [{"filter": "datum.b==2&&datum.s==1&&datum.k=='V'"}], "mark": {"type": "line", "color": "black", "strokeWidth": 1.6}, "encoding": {"x": {"field": "t", "type": "quantitative", "scale": {"domain": [0, 10], "nice": false}, "axis": {"values": [0], "labelAlign": "left", "labelFlush": false, "ticks": false, "labelPadding": 3, "title": null}}}},
   {"data": {"name": "ann"}, "transform": [{"filter": "datum.b==2&&datum.s==1&&datum.k=='V'"}], "mark": {"type": "text", "font": "Liberation Sans", "fontSize": 15, "color": "black", "align": "right", "baseline": "bottom", "dx": -2, "dy": -1}, "encoding": {"x": {"field": "t", "type": "quantitative", "scale": {"domain": [0, 10], "nice": false}}, "text": {"field": "label"}}}
  ]},
  {"width": 109, "height": 103,
   "encoding": {"y": {"field": "v", "type": "quantitative", "scale": {"domain": [-1, 4], "nice": false}, "axis": null}},
   "layer": [
   {"data": {"name": "d"}, "transform": [{"filter": "datum.b==2&&datum.s==2&&datum.k=='V'"}], "mark": {"type": "line", "color": "black", "strokeWidth": 1.6}, "encoding": {"x": {"field": "t", "type": "quantitative", "scale": {"domain": [0, 30], "nice": false}, "axis": {"values": [0], "labelAlign": "left", "labelFlush": false, "ticks": false, "labelPadding": 3, "title": null}}}},
   {"data": {"name": "ann"}, "transform": [{"filter": "datum.b==2&&datum.s==2&&datum.k=='V'"}], "mark": {"type": "text", "font": "Liberation Sans", "fontSize": 15, "color": "black", "align": "right", "baseline": "bottom", "dx": -2, "dy": -1}, "encoding": {"x": {"field": "t", "type": "quantitative", "scale": {"domain": [0, 30], "nice": false}}, "text": {"field": "label"}}}
  ]},
  {"width": 107, "height": 103,
   "encoding": {"y": {"field": "v", "type": "quantitative", "scale": {"domain": [-1, 4], "nice": false}, "axis": {"orient": "right", "values": [0, 1, 2, 3, 4], "format": ".1f", "labelOverlap": false, "title": null}}},
   "layer": [
   {"data": {"name": "d"}, "transform": [{"filter": "datum.b==2&&datum.s==3&&datum.k=='V'"}], "mark": {"type": "line", "color": "black", "strokeWidth": 3}, "encoding": {"x": {"field": "t", "type": "quantitative", "scale": {"domain": [0, 30], "nice": false}, "axis": {"values": [0, 30], "labelExpr": "'0'", "labelAlign": "left", "labelFlush": false, "labelOffset": {"condition": {"test": "datum.value > 0", "value": 11}, "value": 0}, "ticks": false, "labelPadding": 3, "title": null}}}},
   {"data": {"name": "ann"}, "transform": [{"filter": "datum.b==2&&datum.s==3&&datum.k=='V'"}], "mark": {"type": "text", "font": "Liberation Sans", "fontSize": 15, "color": "black", "align": "right", "baseline": "bottom", "dx": -2, "dy": -1}, "encoding": {"x": {"field": "t", "type": "quantitative", "scale": {"domain": [0, 30], "nice": false}}, "text": {"field": "label"}}}
  ]}
 ]}
 ]},

{"title": {"text": "#4 bearing (35000rpm, 12cSt)", "orient": "bottom", "anchor": "middle", "offset": 2, "dx": -28, "font": "Liberation Serif", "fontSize": 22, "fontWeight": "bold", "color": "black"},
 "spacing": 8,
 "vconcat": [
 {"spacing": 3, "bounds": "flush", "hconcat": [
  {"width": 103, "height": 59,
   "encoding": {"y": {"field": "v", "type": "quantitative", "scale": {"domain": [0, 0.5], "nice": false}, "axis": {"values": [0, 0.1, 0.2, 0.3, 0.4, 0.5], "format": ".1f", "labelOverlap": false, "title": "Friction force, N", "labelFontSize": 10, "titleFontSize": 9, "titlePadding": 17}}},
   "layer": [
   {"data": {"name": "d"}, "transform": [{"filter": "datum.b==4&&datum.s==1&&datum.k=='F'"}], "mark": {"type": "line", "color": "black", "strokeWidth": 1.6}, "encoding": {"x": {"field": "t", "type": "quantitative", "scale": {"domain": [0, 10], "nice": false}, "axis": {"labels": false, "ticks": false, "title": null}}}},
   {"data": {"values": [{"v": 0.2}]}, "mark": {"type": "rule", "color": "black", "strokeWidth": 1.2}, "encoding": {}},
   {"data": {"name": "ann"}, "transform": [{"filter": "datum.b==4&&datum.s==1&&datum.k=='F'"}], "mark": {"type": "text", "font": "Liberation Sans", "fontSize": 12, "color": "black"}, "encoding": {"x": {"field": "t", "type": "quantitative", "scale": {"domain": [0, 10], "nice": false}}, "text": {"field": "label"}}}
  ]},
  {"width": 94, "height": 59,
   "encoding": {"y": {"field": "v", "type": "quantitative", "scale": {"domain": [0, 0.5], "nice": false}, "axis": {"orient": "right", "values": [0, 0.1, 0.2, 0.3, 0.4, 0.5], "format": ".1f", "labelOverlap": false, "title": null, "labelFontSize": 10}}},
   "layer": [
   {"data": {"name": "d"}, "transform": [{"filter": "datum.b==4&&datum.s==2&&datum.k=='F'"}], "mark": {"type": "line", "color": "black", "strokeWidth": 1.6}, "encoding": {"x": {"field": "t", "type": "quantitative", "scale": {"domain": [0, 3], "nice": false}, "axis": {"labels": false, "ticks": false, "title": null}}}},
   {"data": {"values": [{"v": 0.2}]}, "mark": {"type": "rule", "color": "black", "strokeWidth": 1.2}, "encoding": {}},
   {"data": {"name": "ann"}, "transform": [{"filter": "datum.b==4&&datum.s==2&&datum.k=='F'"}], "mark": {"type": "text", "font": "Liberation Sans", "fontSize": 12, "color": "black"}, "encoding": {"x": {"field": "t", "type": "quantitative", "scale": {"domain": [0, 3], "nice": false}}, "text": {"field": "label"}}}
  ]}
 ]},
 {"spacing": 3, "bounds": "flush", "title": {"text": "Time, min", "orient": "bottom", "anchor": "middle", "offset": 1, "dx": 12, "font": "Liberation Sans", "fontSize": 11, "fontWeight": "normal", "color": "black"}, "hconcat": [
  {"width": 103, "height": 68,
   "encoding": {"y": {"field": "v", "type": "quantitative", "scale": {"domain": [-1, 4], "nice": false}, "axis": {"values": [0, 1, 2, 3, 4], "format": ".1f", "labelOverlap": false, "title": "Output voltage, V", "labelFontSize": 10, "titleFontSize": 9, "titlePadding": 17}}},
   "layer": [
   {"data": {"name": "d"}, "transform": [{"filter": "datum.b==4&&datum.s==1&&datum.k=='V'"}], "mark": {"type": "line", "color": "black", "strokeWidth": 1.6}, "encoding": {"x": {"field": "t", "type": "quantitative", "scale": {"domain": [0, 10], "nice": false}, "axis": {"values": [0], "labelAlign": "left", "labelFlush": false, "ticks": false, "labelPadding": 2, "title": null, "labelFontSize": 11}}}},
   {"data": {"name": "ann"}, "transform": [{"filter": "datum.b==4&&datum.s==1&&datum.k=='V'"}], "mark": {"type": "text", "font": "Liberation Sans", "fontSize": 11, "color": "black", "align": "right", "baseline": "bottom", "dx": -2, "dy": -1}, "encoding": {"x": {"field": "t", "type": "quantitative", "scale": {"domain": [0, 10], "nice": false}}, "text": {"field": "label"}}}
  ]},
  {"width": 94, "height": 68,
   "encoding": {"y": {"field": "v", "type": "quantitative", "scale": {"domain": [-1, 4], "nice": false}, "axis": {"orient": "right", "values": [0, 1, 2, 3, 4], "format": ".1f", "labelOverlap": false, "title": null, "labelFontSize": 10}}},
   "layer": [
   {"data": {"name": "d"}, "transform": [{"filter": "datum.b==4&&datum.s==2&&datum.k=='V'"}], "mark": {"type": "line", "color": "black", "strokeWidth": 2}, "encoding": {"x": {"field": "t", "type": "quantitative", "scale": {"domain": [0, 3], "nice": false}, "axis": {"values": [0], "labelAlign": "left", "labelFlush": false, "ticks": false, "labelPadding": 2, "title": null, "labelFontSize": 11}}}},
   {"data": {"name": "ann"}, "transform": [{"filter": "datum.b==4&&datum.s==2&&datum.k=='V'"}], "mark": {"type": "text", "font": "Liberation Sans", "fontSize": 11, "color": "black", "align": "right", "baseline": "bottom", "dx": -6, "dy": -1}, "encoding": {"x": {"field": "t", "type": "quantitative", "scale": {"domain": [0, 3], "nice": false}}, "text": {"field": "label"}}}
  ]}
 ]}
 ]}
]}
]
}
